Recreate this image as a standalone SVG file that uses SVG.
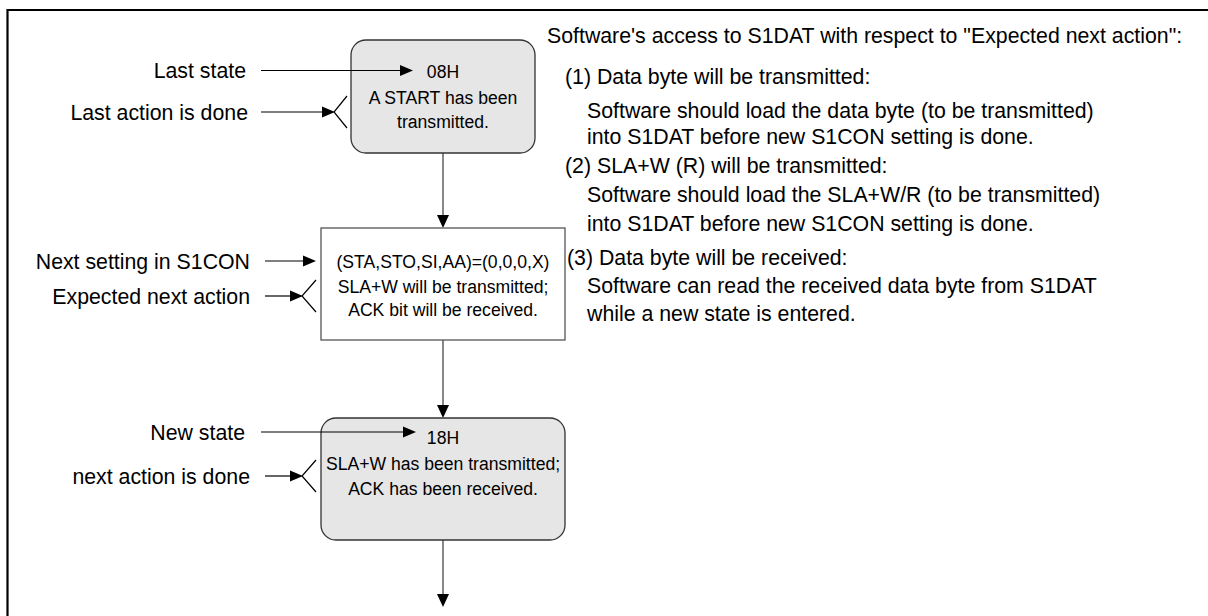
<svg xmlns="http://www.w3.org/2000/svg" width="1208" height="616" viewBox="0 0 1208 616">
<defs>
<style>
.t{font-family:"Liberation Sans",Arial,sans-serif;font-size:21.3px;fill:#000}
.b{font-family:"Liberation Sans",Arial,sans-serif;font-size:17.6px;fill:#000;text-anchor:middle}
.r{text-anchor:end}
.ln{stroke:#000;stroke-width:1.2;fill:none}
.vc{stroke:#555;stroke-width:1.4;fill:none}
.ah{fill:#000}
.state{fill:#e6e6e6;stroke:#333;stroke-width:1.3}
.set{fill:#fff;stroke:#555;stroke-width:1.3}
</style>
</defs>
<rect width="1208" height="616" fill="#fff"/>
<path d="M7.5,616 V10 H1208" fill="none" stroke="#000" stroke-width="2.2"/>

<g id="connectors">
<path class="vc" d="M443,153 V215"/>
<polygon class="ah" points="437,215 449,215 443,228"/>
<path class="vc" d="M443,340 V405"/>
<polygon class="ah" points="437,405 449,405 443,418"/>
<path class="vc" d="M443,540 V594"/>
<polygon class="ah" points="437,594 449,594 443,607"/>
</g>

<g id="node-08H">
<rect class="state" x="351" y="40" width="184" height="113" rx="15"/>
<text class="b" x="443" y="78">08H</text>
<text class="b" x="443" y="104">A START has been</text>
<text class="b" x="443" y="128">transmitted.</text>
</g>

<g id="node-setting">
<rect class="set" x="321" y="228" width="244" height="112"/>
<text class="b" x="443" y="268">(STA,STO,SI,AA)=(0,0,0,X)</text>
<text class="b" x="443" y="293">SLA+W will be transmitted;</text>
<text class="b" x="443" y="316">ACK bit will be received.</text>
</g>

<g id="node-18H">
<rect class="state" x="321" y="418" width="244" height="122" rx="15"/>
<text class="b" x="443" y="444">18H</text>
<text class="b" x="443" y="470">SLA+W has been transmitted;</text>
<text class="b" x="443" y="495">ACK has been received.</text>
</g>

<g id="label-last-state">
<text class="t r" x="246" y="78">Last state</text>
<path class="ln" d="M261,70.5 H401"/>
<polygon class="ah" points="400,65 413,70.5 400,76"/>
</g>
<g id="label-last-action">
<text class="t r" x="248" y="120">Last action is done</text>
<path class="ln" d="M261,112 H323"/>
<polygon class="ah" points="322,106.5 335,112 322,117.5"/>
<path class="ln" d="M347,96 L334,112 L347,128"/>
</g>
<g id="label-next-setting">
<text class="t r" x="250" y="268.5">Next setting in S1CON</text>
<path class="ln" d="M265,261 H304"/>
<polygon class="ah" points="303,255.5 316,261 303,266.5"/>
</g>
<g id="label-expected">
<text class="t r" x="250" y="303.5">Expected next action</text>
<path class="ln" d="M265,296 H291"/>
<polygon class="ah" points="290,290.5 303,296 290,301.5"/>
<path class="ln" d="M316,280 L302,296 L316,312"/>
</g>
<g id="label-new-state">
<text class="t r" x="245" y="440">New state</text>
<path class="ln" d="M261,432 H404"/>
<polygon class="ah" points="403,426.5 416,432 403,437.5"/>
</g>
<g id="label-next-done">
<text class="t r" x="250" y="483.5">next action is done</text>
<path class="ln" d="M265,476 H291"/>
<polygon class="ah" points="290,470.5 303,476 290,481.5"/>
<path class="ln" d="M316,460 L302,476 L316,492"/>
</g>

<g id="notes">
<text class="t" x="547" y="43">Software's access to S1DAT with respect to "Expected next action":</text>
<text class="t" x="565" y="84">(1) Data byte will be transmitted:</text>
<text class="t" x="587" y="118">Software should load the data byte (to be transmitted)</text>
<text class="t" x="587" y="144">into S1DAT before new S1CON setting is done.</text>
<text class="t" x="565" y="172.5">(2) SLA+W (R) will be transmitted:</text>
<text class="t" x="587" y="202">Software should load the SLA+W/R (to be transmitted)</text>
<text class="t" x="587" y="231">into S1DAT before new S1CON setting is done.</text>
<text class="t" x="567" y="265">(3) Data byte will be received:</text>
<text class="t" x="587" y="293">Software can read the received data byte from S1DAT</text>
<text class="t" x="587" y="321">while a new state is entered.</text>
</g>
</svg>
